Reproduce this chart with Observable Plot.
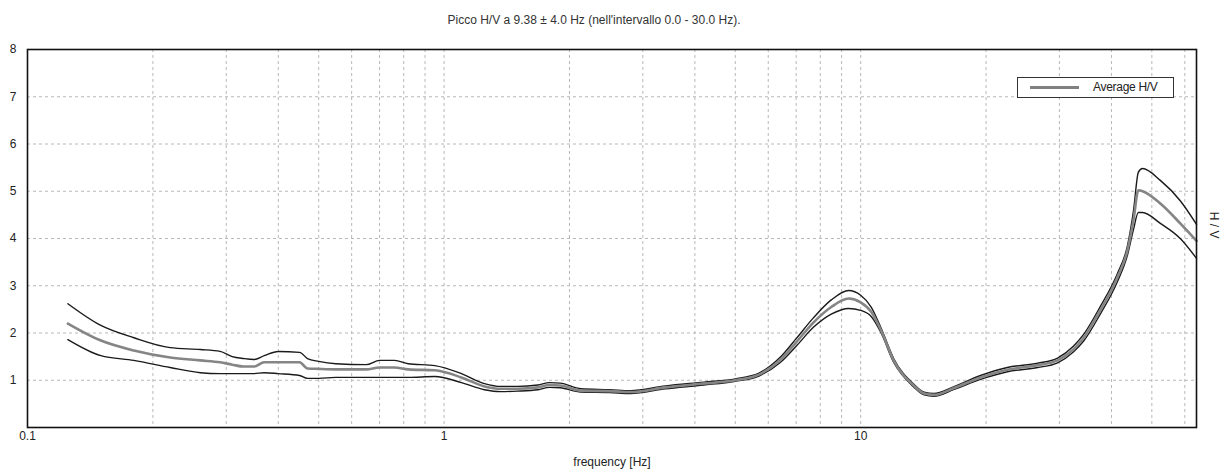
<!DOCTYPE html>
<html>
<head>
<meta charset="utf-8">
<script src="https://cdn.jsdelivr.net/npm/d3@7"></script>
<script src="https://cdn.jsdelivr.net/npm/@observablehq/plot@0.6"></script>
<style>
  html, body { margin: 0; padding: 0; background: #fff; }
  #wrap { position: relative; width: 1228px; height: 475px; font-family: 'Liberation Sans Narrow', 'Arial Narrow', 'Liberation Sans', Arial, sans-serif; }
  #legend { position: absolute; left: 1017px; top: 77px; width: 155px; height: 19px; border: 1px solid #333; background: #fff; box-sizing: content-box; }
  #legend .swatch { position: absolute; left: 12px; top: 8px; width: 49px; height: 3px; background: #808080; }
  #legend .lbl { position: absolute; left: 75px; top: 2px; font-size: 12px; color: #222; line-height: 15px; letter-spacing: -0.3px; }
</style>
</head>
<body>
<div id="wrap"><div id="legend"><div class="swatch"></div><div class="lbl">Average H/V</div></div></div>
<script>
const titleText = "Picco H/V a 9.38 \u00b1 4.0 Hz (nell'intervallo 0.0 - 30.0 Hz).";
const xLabel = "frequency [Hz]";
const yLabel = "H / V";

const freq = [0.125, 0.15, 0.18, 0.22, 0.26, 0.29, 0.31, 0.33, 0.35, 0.37, 0.40, 0.45, 0.47, 0.50, 0.55, 0.65, 0.70, 0.76, 0.82, 0.95,
  1.1, 1.25, 1.37, 1.5, 1.68, 1.79, 1.9, 2.13, 2.5, 2.8, 3.4, 4.2, 5.0, 5.7, 6.4, 7.0, 7.7, 8.5, 9.36, 10.0,
  10.6, 11.2, 12.0, 13.4, 14.2, 15.0, 16.7, 19.4, 22.5, 26.6, 29.7, 32.4, 34.3, 37.6, 41.3, 43.7, 45.2, 46.4, 47.5, 52.4, 58.5, 64];
const upper = [2.62, 2.16, 1.90, 1.69, 1.65, 1.61, 1.50, 1.46, 1.44, 1.52, 1.61, 1.59, 1.46, 1.40, 1.35, 1.33, 1.42, 1.42, 1.35, 1.31,
  1.14, 0.93, 0.87, 0.87, 0.90, 0.95, 0.94, 0.82, 0.80, 0.78, 0.88, 0.96, 1.03, 1.15, 1.48, 1.88, 2.32, 2.70, 2.90, 2.80,
  2.55, 2.10, 1.46, 0.92, 0.75, 0.72, 0.86, 1.10, 1.27, 1.36, 1.47, 1.72, 1.97, 2.56, 3.25, 3.85, 4.60, 5.40, 5.48, 5.23, 4.80, 4.30];
const average = [2.20, 1.84, 1.63, 1.48, 1.42, 1.38, 1.33, 1.29, 1.29, 1.38, 1.38, 1.38, 1.25, 1.24, 1.23, 1.23, 1.27, 1.27, 1.23, 1.21,
  1.06, 0.87, 0.82, 0.82, 0.85, 0.90, 0.89, 0.78, 0.77, 0.75, 0.85, 0.93, 1.00, 1.12, 1.42, 1.80, 2.22, 2.55, 2.73, 2.65,
  2.45, 2.05, 1.42, 0.89, 0.72, 0.69, 0.83, 1.06, 1.22, 1.32, 1.42, 1.65, 1.90, 2.48, 3.17, 3.75, 4.40, 5.02, 5.00, 4.74, 4.32, 3.95];
const lower = [1.86, 1.52, 1.42, 1.27, 1.16, 1.14, 1.14, 1.14, 1.14, 1.16, 1.14, 1.10, 1.04, 1.04, 1.06, 1.06, 1.06, 1.06, 1.06, 1.08,
  0.95, 0.80, 0.76, 0.77, 0.80, 0.85, 0.84, 0.75, 0.74, 0.72, 0.82, 0.90, 0.98, 1.09, 1.37, 1.72, 2.12, 2.40, 2.52, 2.48,
  2.35, 2.00, 1.38, 0.86, 0.69, 0.66, 0.80, 1.02, 1.18, 1.27, 1.37, 1.60, 1.83, 2.40, 3.08, 3.65, 4.20, 4.55, 4.55, 4.32, 4.00, 3.58];

const xTickLabels = [0.1, 1, 10];
const yTickLabels = [1, 2, 3, 4, 5, 6, 7, 8];
const xGrid = [0.2, 0.3, 0.4, 0.5, 0.6, 0.7, 0.8, 0.9, 1, 2, 3, 4, 5, 6, 7, 8, 9, 10, 20, 30, 40, 50, 60];
const yGrid = [1, 2, 3, 4, 5, 6, 7];

const rows = freq.map((f, i) => ({f, upper: upper[i], avg: average[i], lower: lower[i]}));

const chart = Plot.plot({
  width: 1228,
  height: 475,
  marginLeft: 27,
  marginRight: 32,
  marginTop: 49,
  marginBottom: 48,
  style: {fontFamily: "'Liberation Sans Narrow', 'Arial Narrow', 'Liberation Sans', Arial, sans-serif", fontSize: "12px", color: "#222", background: "#fff"},
  x: {type: "log", domain: [0.1, 64]},
  y: {domain: [0, 8]},
  marks: [
    Plot.ruleY(yGrid, {stroke: "#b8b8b8", strokeDasharray: "3,3", strokeWidth: 1}),
    Plot.ruleX(xGrid, {stroke: "#b8b8b8", strokeDasharray: "3,3", strokeWidth: 1}),
    Plot.line(rows, {x: "f", y: "upper", stroke: "#1a1a1a", strokeWidth: 1.4, curve: "monotone-x"}),
    Plot.line(rows, {x: "f", y: "lower", stroke: "#1a1a1a", strokeWidth: 1.4, curve: "monotone-x"}),
    Plot.line(rows, {x: "f", y: "avg", stroke: "#858585", strokeWidth: 2.6, curve: "monotone-x"}),
    Plot.frame({stroke: "#111", strokeWidth: 1.6}),
    Plot.axisY(yTickLabels, {anchor: "left", tickSize: 0, tickPadding: 11, label: null, fontSize: 12}),
    Plot.axisX(xTickLabels, {anchor: "bottom", tickSize: 0, tickPadding: 4, label: null, tickFormat: d => String(d), fontSize: 12}),
    Plot.text([titleText], {frameAnchor: "top", dy: -34, dx: -18, text: d => d, fontSize: 12, fill: "#333"}),
    Plot.text([xLabel], {frameAnchor: "bottom", dy: 38, text: d => d, fontSize: 12, fill: "#222"}),
    Plot.text([yLabel], {frameAnchor: "right", dx: 17, rotate: 90, text: d => d, fontSize: 12, fill: "#222"})
  ]
});
document.getElementById("wrap").prepend(chart);
</script>
</body>
</html>
